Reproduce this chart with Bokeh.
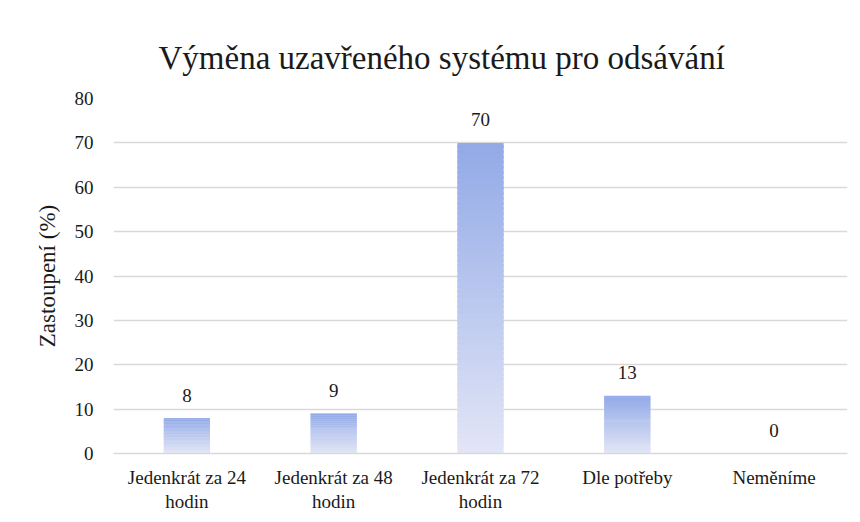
from bokeh.plotting import figure
from bokeh.models import Range1d, LinearAxis, FixedTicker
from bokeh.core.properties import value
from bokeh.embed import file_html
from bokeh.resources import INLINE

# ---- data ----
categories = ["Jedenkrát za 24 hodin", "Jedenkrát za 48 hodin", "Jedenkrát za 72 hodin",
              "Dle potřeby", "Neměníme"]
label_line1 = ["Jedenkrát za 24", "Jedenkrát za 48", "Jedenkrát za 72", "Dle potřeby", "Neměníme"]
label_line2 = ["hodin", "hodin", "hodin", " ", " "]
values = [8, 9, 70, 13, 0]
value_labels = ["8", "9", "70", "13", "0"]
y_ticks = [0, 10, 20, 30, 40, 50, 60, 70, 80]

title_text = "Výměna uzavřeného systému pro odsávání"
y_label = "Zastoupení (%)"

FONT = "Liberation Serif"
TEXT_COLOR = "#1a1a1a"
TOP_RGB = (146, 169, 231)
BOTTOM_RGB = (226, 230, 246)

positions = list(range(len(categories)))

p = figure(width=852, height=514, x_range=Range1d(-0.5, len(categories) - 0.5), y_range=Range1d(0, 80),
           output_backend="svg", toolbar_location=None, x_axis_type=None,
           min_border_left=113, min_border_right=5, min_border_top=98, min_border_bottom=60)

# gradient bars built from slices
N = 60
xs, bottoms, tops, colors = [], [], [], []
for xpos, v in zip(positions, values):
    if v <= 0:
        continue
    for i in range(N):
        t = (i + 0.5) / N
        r = round(BOTTOM_RGB[0] + (TOP_RGB[0] - BOTTOM_RGB[0]) * t)
        g = round(BOTTOM_RGB[1] + (TOP_RGB[1] - BOTTOM_RGB[1]) * t)
        b = round(BOTTOM_RGB[2] + (TOP_RGB[2] - BOTTOM_RGB[2]) * t)
        xs.append(xpos)
        bottoms.append(v * i / N)
        tops.append(min(v, v * (i + 1.6) / N))
        colors.append("#%02x%02x%02x" % (r, g, b))
p.vbar(x=xs, bottom=bottoms, top=tops, width=0.315, fill_color=colors, line_color=None)

# value labels
p.text(x=positions, y=values, text=value_labels, y_offset=-23,
       text_align="center", text_baseline="alphabetic",
       text_font=value(FONT), text_font_size="19px", text_color=TEXT_COLOR)

# title
p.title.text = title_text
p.title.text_font = FONT
p.title.text_font_size = "33px"
p.title.text_font_style = "normal"
p.title.text_color = TEXT_COLOR
p.title.align = "left"
p.title.offset = 45
p.title.standoff = 46

# x axis: first line of category labels
ax1 = LinearAxis(ticker=FixedTicker(ticks=positions),
                 major_label_overrides=dict(zip(positions, label_line1)),
                 major_label_text_font=FONT, major_label_text_font_size="19px",
                 major_label_text_color=TEXT_COLOR, major_label_standoff=13,
                 major_tick_out=0, major_tick_in=0,
                 axis_line_color="#d9d9d9", axis_line_width=1.5,
                 major_tick_line_color=None, minor_tick_line_color=None)
p.add_layout(ax1, "below")

# second line of category labels
ax2 = LinearAxis(ticker=FixedTicker(ticks=positions),
                 major_label_overrides=dict(zip(positions, label_line2)),
                 major_label_text_font=FONT, major_label_text_font_size="19px",
                 major_label_text_color=TEXT_COLOR, major_label_standoff=0,
                 major_tick_out=0, major_tick_in=0, axis_line_color=None,
                 major_tick_line_color=None, minor_tick_line_color=None)
p.add_layout(ax2, "below")

p.yaxis.ticker = y_ticks
p.yaxis.axis_label = y_label
p.yaxis.axis_label_text_font = FONT
p.yaxis.axis_label_text_font_size = "23px"
p.yaxis.axis_label_text_font_style = "normal"
p.yaxis.axis_label_text_color = TEXT_COLOR
p.yaxis.axis_label_standoff = 12
p.yaxis.major_label_text_font = FONT
p.yaxis.major_label_text_font_size = "19px"
p.yaxis.major_label_text_color = TEXT_COLOR
p.yaxis.major_label_standoff = 20
p.yaxis.major_tick_out = 0
p.yaxis.major_tick_in = 0
p.yaxis.axis_line_color = None
p.yaxis.major_tick_line_color = None
p.yaxis.minor_tick_line_color = None

p.ygrid.grid_line_color = "#d9d9d9"
p.ygrid.grid_line_width = 1.5
p.outline_line_color = None
p.background_fill_color = "white"
p.border_fill_color = "white"

open("out.html", "w").write(file_html(p, INLINE))
